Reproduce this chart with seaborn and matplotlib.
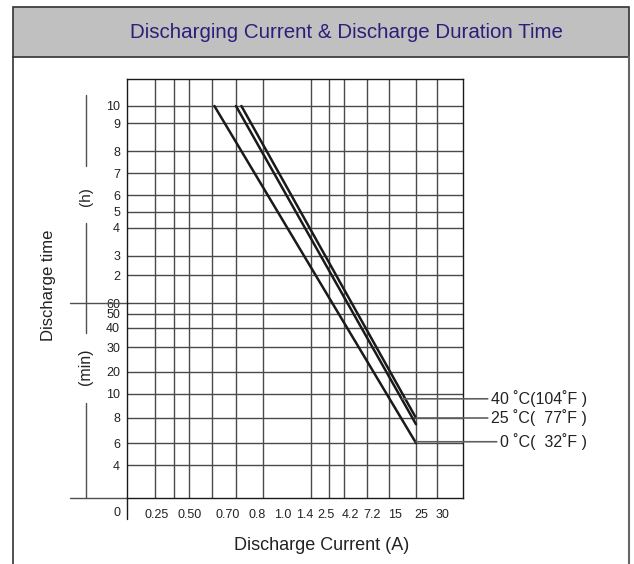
import numpy as np
import pandas as pd
import matplotlib
matplotlib.use("Agg")
import matplotlib.pyplot as plt
from matplotlib.patches import Rectangle
from matplotlib.lines import Line2D
import seaborn as sns

# curves (current in A, time in min)
temps = ["40 ˚C(104˚F )", "25 ˚C(  77˚F )", "0 ˚C(  32˚F )"]
start_current = [0.72, 0.70, 0.61]
end_current = [25, 25, 25]
start_time = [600, 600, 600]
end_time = [8.0, 7.5, 6.0]
label_time = [9.6, 8.0, 6.1]
leader_current = [20, 25, 25]

# grid of the chart: current values of the vertical lines and where they sit (px)
grid_current = [0, 0.25, 0.35, 0.50, 0.60, 0.70, 0.8, 1.0, 1.4, 2.5, 4.2, 7.2, 15, 25, 30, 40]
grid_current_px = [127, 155, 174, 189, 212, 236, 263, 283, 311, 329, 344, 367, 389, 416, 437, 463]
xtick_labels = ["0.25", "0.50", "0.70", "0.8", "1.0", "1.4", "2.5", "4.2", "7.2", "15", "25", "30"]
xtick_px = [157, 190, 228, 257, 283, 305, 326, 350, 372, 395, 421, 442]

# time values of the horizontal lines (min) and where they sit (px from top)
grid_time = [2, 4, 6, 8, 10, 20, 30, 40, 50, 60, 120, 180, 240, 300, 360, 420, 480, 540, 600, 720]
grid_time_px = [498, 465, 443, 418, 394, 372, 347, 328, 314, 303, 275, 256, 228, 212, 195, 173, 151, 123, 106, 79]
ytick_labels = ["4", "6", "8", "10", "20", "30", "40", "50", "60",
                "2", "3", "4", "5", "6", "7", "8", "9", "10"]

W, H = 634, 564

sns.set_style("white")
plt.rcParams['font.family'] = ['Liberation Sans', 'DejaVu Sans']

fig = plt.figure(figsize=(W / 100, H / 100), dpi=100)
ax = fig.add_axes([127 / W, 1 - 498 / H, 336 / W, 419 / H])

# piecewise scales like the printed chart
xc = np.array(grid_current, float)
xp = np.array(grid_current_px, float)
tt = np.array(grid_time, float)
tp = -np.array(grid_time_px, float)

def fwd_x(v):
    return np.interp(v, xc, xp)

def inv_x(p):
    return np.interp(p, xp, xc)

def fwd_y(v):
    return np.interp(v, tt, tp)

def inv_y(p):
    return np.interp(p, tp, tt)

ax.set_xscale('function', functions=(fwd_x, inv_x))
ax.set_yscale('function', functions=(fwd_y, inv_y))

rows = []
for i, t in enumerate(temps):
    rows.append({"temp": t, "current": start_current[i], "time": start_time[i]})
    rows.append({"temp": t, "current": end_current[i], "time": end_time[i]})
df = pd.DataFrame(rows)

sns.lineplot(data=df, x="current", y="time", hue="temp", palette=["#1a1a1a"] * 3,
             estimator=None, sort=False, legend=False, linewidth=1.8, ax=ax)

ax.set_xlim(0, 40)
ax.set_ylim(2, 720)

# grid lines
ax.set_xticks(grid_current[1:-1], minor=True)
ax.set_xticks(inv_x(np.array(xtick_px, float)))
ax.set_xticklabels(xtick_labels)
ax.set_yticks(grid_time[1:-1])
ax.set_yticklabels(ytick_labels)
ax.grid(False)
ax.grid(which='minor', axis='x', color='#4a4a4a', linewidth=1.0)
ax.grid(which='major', axis='y', color='#4a4a4a', linewidth=1.0)
ax.tick_params(which='both', length=0, labelsize=9, colors='#222222')
ax.tick_params(axis='x', pad=8)
ax.tick_params(axis='y', pad=5)
for s in ax.spines.values():
    s.set_color('#1a1a1a')
    s.set_linewidth(1.0)
ax.set_xlabel("")
ax.set_ylabel("")

# origin label and extended axis lines
ax.text(-0.02, -0.035, "0", transform=ax.transAxes, ha='right', va='center',
        fontsize=9, color='#222222')
ax.plot([0, 0], [0, -0.05], transform=ax.transAxes, clip_on=False, color='#1a1a1a', lw=1.0)
ax.plot([-0.17, 0], [0, 0], transform=ax.transAxes, clip_on=False, color='#505050', lw=1.0)
ax.plot([-0.17, 0], [60, 60], transform=ax.get_yaxis_transform(), clip_on=False,
        color='#505050', lw=1.0)

# unit brackets on the y axis
bx = (86 - 127) / 336
for y0, y1 in [(95, 166), (223, 333), (403, 498)]:
    ax.plot([bx, bx], [(498 - y0) / 419, (498 - y1) / 419], transform=ax.transAxes,
            clip_on=False, color='#505050', lw=1.0)
ax.text(bx, (498 - 197) / 419, "(h)", transform=ax.transAxes, rotation=90,
        ha='center', va='center', fontsize=11, color='#222222')
ax.text(bx, (498 - 367) / 419, "(min)", transform=ax.transAxes, rotation=90,
        ha='center', va='center', fontsize=11.5, color='#222222')
fig.text(48 / W, 1 - 285 / H, "Discharge time", rotation=90, ha='center', va='center',
         fontsize=12, color='#222222')
fig.text(322 / W, 1 - 546 / H, "Discharge Current (A)", ha='center', va='center',
         fontsize=13, color='#222222')

# temperature labels with leader lines
text_x = [(491 - 127) / 336, (491 - 127) / 336, (500 - 127) / 336]
for i, t in enumerate(temps):
    ax.annotate(t, xy=(leader_current[i], label_time[i]),
                xytext=(text_x[i], label_time[i]),
                textcoords=ax.get_yaxis_transform(), ha='left', va='center',
                fontsize=11.5, color='#222222', annotation_clip=False,
                arrowprops=dict(arrowstyle='-', color='#606060', lw=1.2,
                                shrinkA=0, shrinkB=0, relpos=(0, 0.5)))

# title box and outer frame
fig.add_artist(Rectangle((13 / W, 1 - 57 / H), 616 / W, 50 / H, transform=fig.transFigure,
                         facecolor='#c0c0c0', edgecolor='#333333', linewidth=1.2))
fig.add_artist(Line2D([13 / W, 13 / W], [0, 1 - 57 / H], transform=fig.transFigure,
                      color='#333333', lw=1.2))
fig.add_artist(Line2D([629 / W, 629 / W], [0, 1 - 57 / H], transform=fig.transFigure,
                      color='#666666', lw=1.5))
fig.text(346 / W, 1 - 33 / H, "Discharging Current & Discharge Duration Time",
         ha='center', va='center', fontsize=14.8, color='#2b1f7a')

fig.savefig("out.png", dpi=100)
